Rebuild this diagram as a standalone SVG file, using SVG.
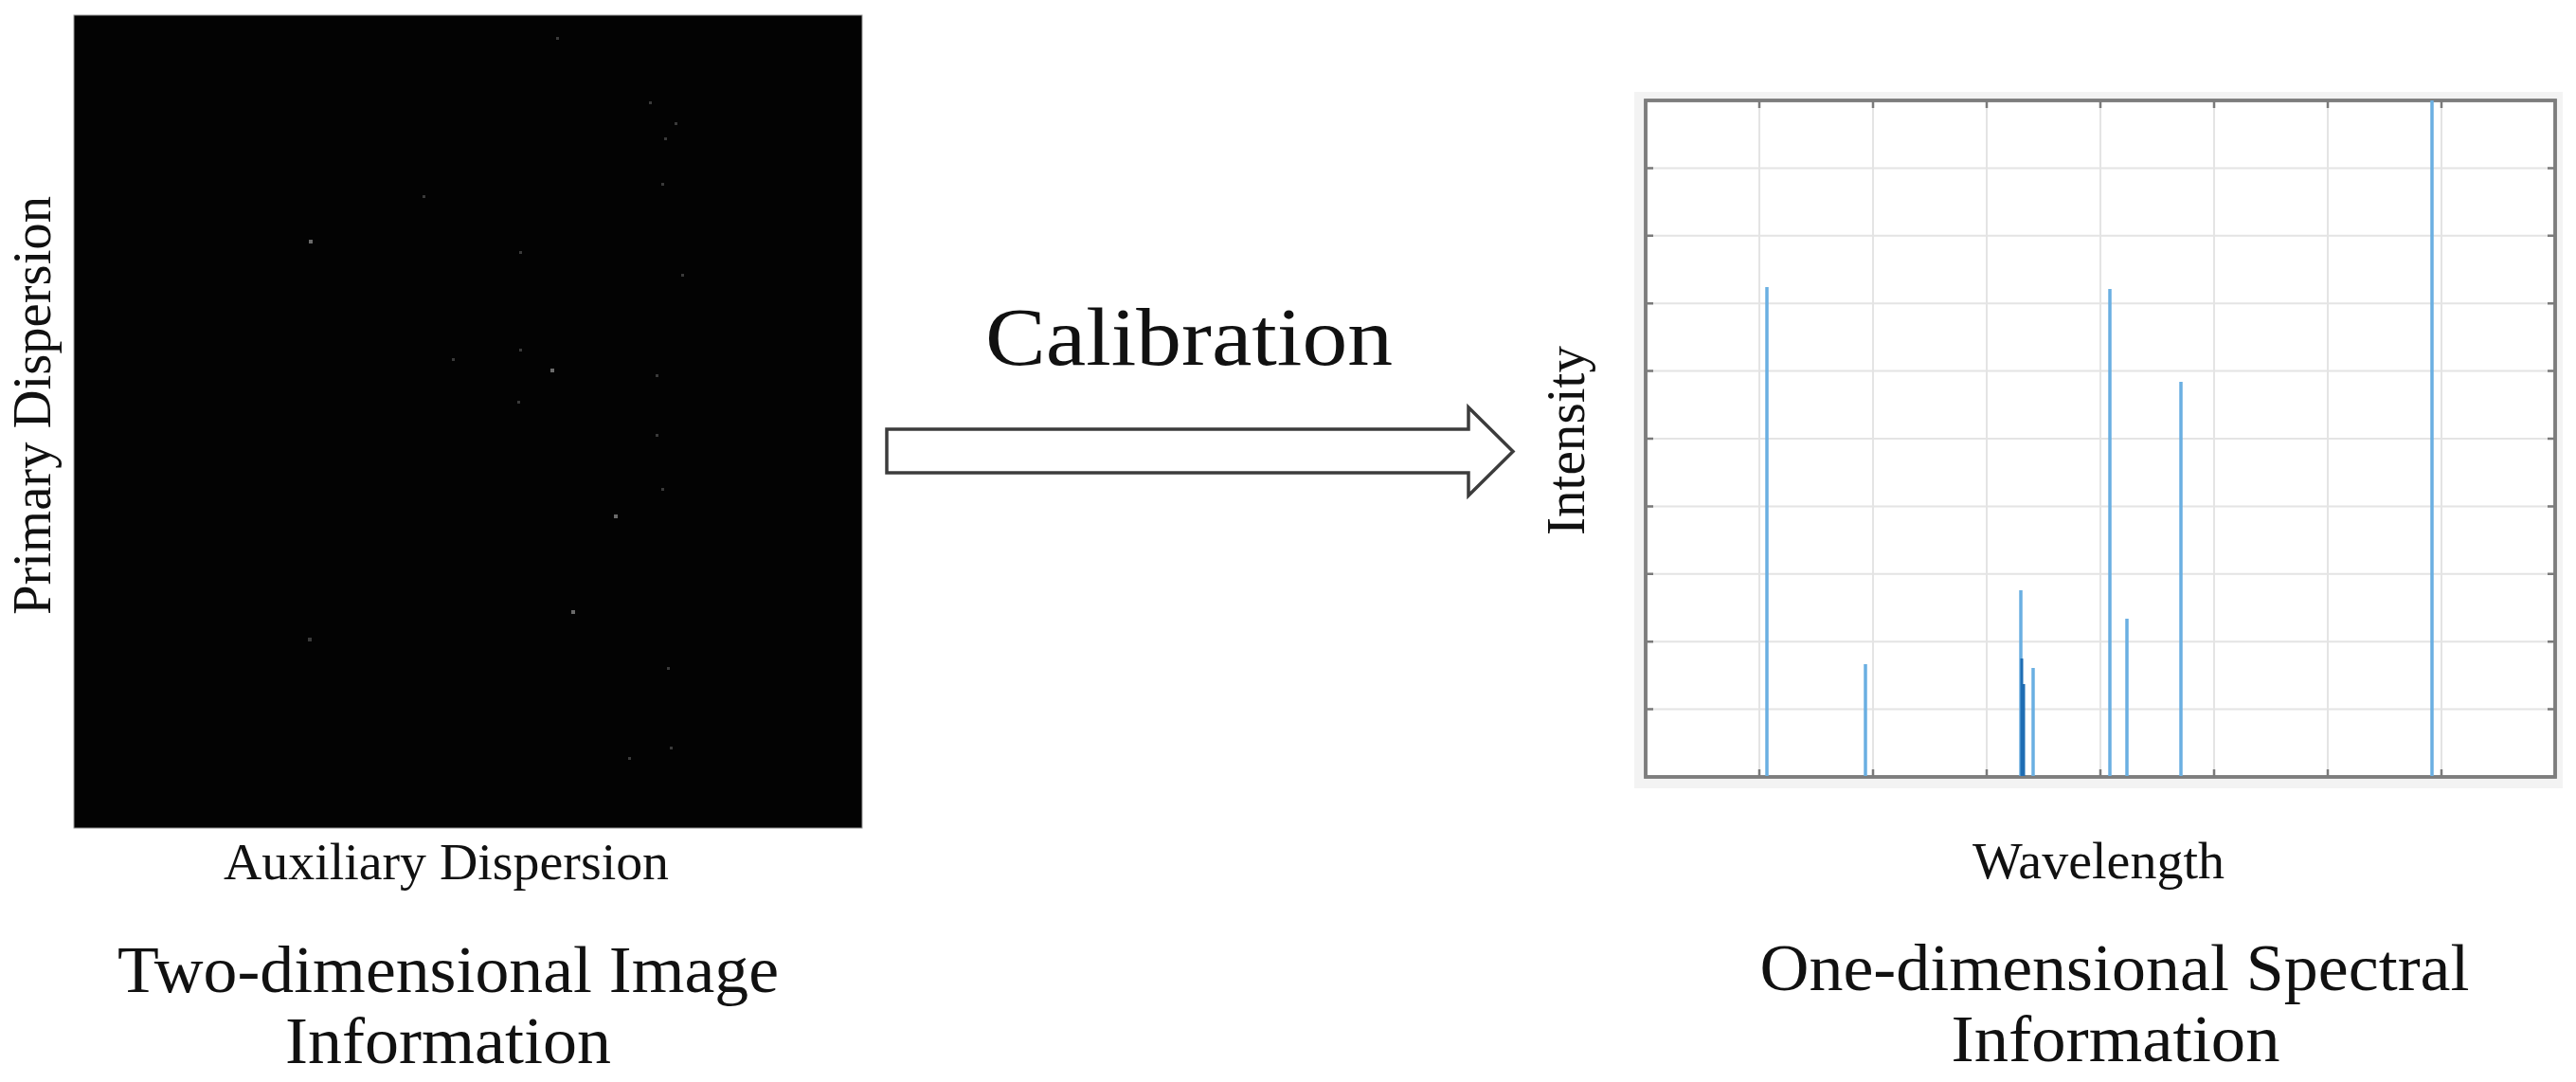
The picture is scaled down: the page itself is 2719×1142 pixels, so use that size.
<svg xmlns="http://www.w3.org/2000/svg" width="2719" height="1142" viewBox="0 0 2719 1142">
<style>
.lbl{font-family:"Liberation Serif","Times New Roman",serif;fill:#111;text-anchor:middle}
.dot{fill:#6a6a6a}
.dim{fill:#3a3a3a}
.grid{stroke:#e4e4e4;stroke-width:2;fill:none}
.tick{stroke:#7a7a7a;stroke-width:2.5}
.axis{fill:#fff;stroke:#7d7d7d;stroke-width:3.5}
.peak{stroke:#6aafe2;stroke-width:3.5}
.peakd{stroke:#1f6db3;stroke-width:3}
.arrow{fill:#fff;stroke:#3c3c3c;stroke-width:3.5;stroke-linejoin:miter}
</style>
<rect width="2719" height="1142" fill="#fff"/>

<g id="image-panel">
  <rect x="78" y="16" width="832" height="858" fill="#030303" stroke="#9a9a9a" stroke-width="1"/>
  <g>
    <rect class="dot" x="326" y="253" width="4" height="4"/>
    <rect class="dot" x="581" y="389" width="4" height="4"/>
    <rect class="dot" x="648" y="543" width="4" height="4"/>
    <rect class="dot" x="603" y="644" width="4" height="4"/>
    <rect class="dim" x="325" y="673" width="4" height="4"/>
    <rect class="dim" x="546" y="423" width="3" height="3"/>
    <rect class="dim" x="548" y="368" width="3" height="3"/>
    <rect class="dim" x="548" y="265" width="3" height="3"/>
    <rect class="dim" x="446" y="206" width="3" height="3"/>
    <rect class="dim" x="685" y="107" width="3" height="3"/>
    <rect class="dim" x="712" y="129" width="3" height="3"/>
    <rect class="dim" x="701" y="145" width="3" height="3"/>
    <rect class="dim" x="719" y="289" width="3" height="3"/>
    <rect class="dim" x="692" y="395" width="3" height="3"/>
    <rect class="dim" x="692" y="458" width="3" height="3"/>
    <rect class="dim" x="704" y="704" width="3" height="3"/>
    <rect class="dim" x="663" y="799" width="3" height="3"/>
    <rect class="dim" x="587" y="39" width="3" height="3"/>
    <rect class="dim" x="698" y="193" width="3" height="3"/>
    <rect class="dim" x="698" y="515" width="3" height="3"/>
    <rect class="dim" x="477" y="378" width="3" height="3"/>
    <rect class="dim" x="707" y="788" width="3" height="3"/>
  </g>
  <text class="lbl" transform="translate(53,428) rotate(-90)" font-size="56" textLength="442" lengthAdjust="spacingAndGlyphs">Primary Dispersion</text>
  <text class="lbl" x="471" y="928" font-size="55" textLength="470" lengthAdjust="spacingAndGlyphs">Auxiliary Dispersion</text>
  <text class="lbl" x="473" y="1047" font-size="70" textLength="698" lengthAdjust="spacingAndGlyphs">Two-dimensional Image</text>
  <text class="lbl" x="473" y="1122" font-size="70" textLength="344" lengthAdjust="spacingAndGlyphs">Information</text>
</g>

<g id="connectors">
  <polygon class="arrow" points="936,453 1550,453 1550,430 1597,476.5 1550,523 1550,499 936,499"/>
  <text class="lbl" x="1255" y="385" font-size="86" textLength="430" lengthAdjust="spacingAndGlyphs">Calibration</text>
</g>

<g id="spectrum-panel">
  <rect x="1725" y="97" width="980" height="735" fill="#f3f3f3"/>
  <rect class="axis" x="1737" y="106" width="960" height="714"/>
  <g class="grid">
    <path d="M1857 106V820M1977 106V820M2097 106V820M2217 106V820M2337 106V820M2457 106V820M2577 106V820"/>
    <path d="M1737 177.4H2697M1737 248.8H2697M1737 320.2H2697M1737 391.6H2697M1737 463H2697M1737 534.4H2697M1737 605.8H2697M1737 677.2H2697M1737 748.6H2697"/>
  </g>
  <g class="tick">
    <path d="M1857 106v8M1977 106v8M2097 106v8M2217 106v8M2337 106v8M2457 106v8M2577 106v8"/>
    <path d="M1857 820v-8M1977 820v-8M2097 820v-8M2217 820v-8M2337 820v-8M2457 820v-8M2577 820v-8"/>
    <path d="M1737 177.4h8M1737 248.8h8M1737 320.2h8M1737 391.6h8M1737 463h8M1737 534.4h8M1737 605.8h8M1737 677.2h8M1737 748.6h8"/>
    <path d="M2697 177.4h-8M2697 248.8h-8M2697 320.2h-8M2697 391.6h-8M2697 463h-8M2697 534.4h-8M2697 605.8h-8M2697 677.2h-8M2697 748.6h-8"/>
  </g>
  <rect x="1737" y="106" width="960" height="714" fill="none" stroke="#7d7d7d" stroke-width="3.5"/>
  <g>
    <line class="peak" x1="1865" y1="303" x2="1865" y2="819"/>
    <line class="peak" x1="1969" y1="701" x2="1969" y2="819"/>
    <line class="peak" x1="2133" y1="623" x2="2133" y2="819"/>
    <line class="peak" x1="2146" y1="705" x2="2146" y2="819"/>
    <line class="peak" x1="2227" y1="305" x2="2227" y2="819"/>
    <line class="peak" x1="2245" y1="653" x2="2245" y2="819"/>
    <line class="peak" x1="2302" y1="403" x2="2302" y2="819"/>
    <line class="peak" x1="2567" y1="106" x2="2567" y2="819"/>
    <line class="peakd" x1="2134" y1="695" x2="2134" y2="819"/>
    <line class="peakd" x1="2136" y1="722" x2="2136" y2="819"/>
  </g>
  <text class="lbl" transform="translate(1672,465) rotate(-90)" font-size="56" textLength="200" lengthAdjust="spacingAndGlyphs">Intensity</text>
  <text class="lbl" x="2215" y="927" font-size="55" textLength="266" lengthAdjust="spacingAndGlyphs">Wavelength</text>
  <text class="lbl" x="2232" y="1045" font-size="70" textLength="749" lengthAdjust="spacingAndGlyphs">One-dimensional Spectral</text>
  <text class="lbl" x="2233" y="1120" font-size="70" textLength="347" lengthAdjust="spacingAndGlyphs">Information</text>
</g>
</svg>
